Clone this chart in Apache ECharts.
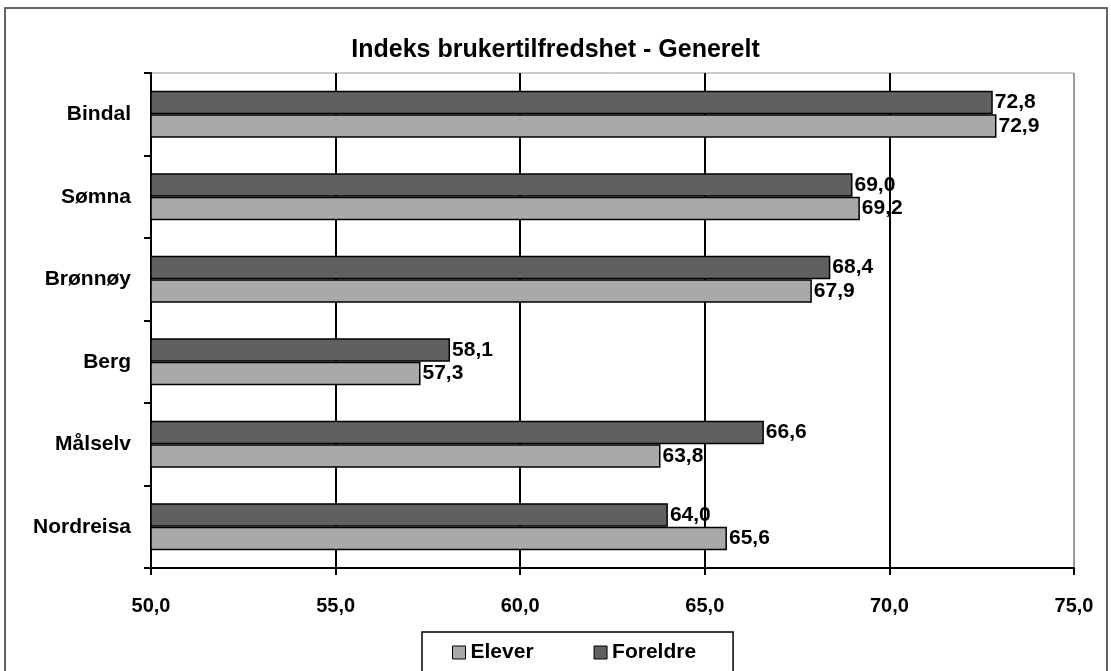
<!DOCTYPE html>
<html>
<head>
<meta charset="utf-8">
<script src="https://cdn.jsdelivr.net/npm/echarts@6/dist/echarts.min.js"></script>
<style>
  html, body { margin: 0; padding: 0; background: #fff; }
  #chart { width: 1111px; height: 671px; }
</style>
</head>
<body>
<div id="chart"></div>
<script>
  const kommuner = ['Bindal', 'Sømna', 'Brønnøy', 'Berg', 'Målselv', 'Nordreisa']
  const elever = [72.9, 69.2, 67.9, 57.3, 63.8, 65.6]
  const foreldre = [72.8, 69.0, 68.4, 58.1, 66.6, 64.0]
  const xTicks = [50, 55, 60, 65, 70, 75]

  const font = '"Liberation Sans Narrow", "Liberation Sans", Arial, sans-serif'
  const komma = function (v) {
    return Number(v).toFixed(1).replace('.', ',')
  }

  let myChart = echarts.init(document.getElementById('chart'))
  const option = {
    animation: false,
    backgroundColor: '#fff',
    textStyle: { fontFamily: font, color: '#000' },
    title: {
      text: 'Indeks brukertilfredshet - Generelt',
      left: 'center',
      top: 33,
      textStyle: { fontFamily: font, fontSize: 25, fontWeight: 'bold', color: '#000' }
    },
    graphic: [
      {
        type: 'rect',
        shape: { x: 5, y: 8, width: 1102, height: 680 },
        style: { fill: null, stroke: '#666', lineWidth: 2 },
        silent: true,
        z: -1
      }
    ],
    legend: {
      data: ['Elever', 'Foreldre'],
      left: 422,
      top: 632,
      itemGap: 60,
      itemWidth: 13,
      itemHeight: 13,
      padding: [10, 37, 14, 30],
      borderColor: '#000',
      borderWidth: 1.5,
      icon: 'rect',
      itemStyle: { borderColor: '#000', borderWidth: 1 },
      textStyle: { fontFamily: font, fontSize: 21, fontWeight: 'bold', color: '#000' }
    },
    grid: {
      left: 151,
      right: 37,
      top: 73,
      bottom: 103,
      show: true,
      borderColor: '#999',
      borderWidth: 1
    },
    xAxis: {
      type: 'value',
      min: xTicks[0],
      max: xTicks[xTicks.length - 1],
      interval: 5,
      axisLine: { show: true, lineStyle: { color: '#000', width: 2 } },
      axisTick: { show: true, length: 7, lineStyle: { color: '#000', width: 2 } },
      axisLabel: {
        margin: 28,
        fontFamily: font,
        fontSize: 20,
        fontWeight: 'bold',
        color: '#000',
        formatter: komma
      },
      splitLine: {
        show: true,
        lineStyle: { color: ['#000', '#000', '#000', '#000', '#000', '#999'], width: 2 }
      }
    },
    yAxis: {
      type: 'category',
      data: kommuner,
      inverse: true,
      axisLine: { show: true, lineStyle: { color: '#000', width: 2 } },
      axisTick: { show: true, length: 7, inside: false, lineStyle: { color: '#000', width: 2 } },
      axisLabel: {
        margin: 20,
        fontFamily: font,
        fontSize: 21,
        fontWeight: 'bold',
        color: '#000'
      },
      splitLine: { show: false }
    },
    series: [
      {
        name: 'Foreldre',
        type: 'bar',
        data: foreldre,
        barGap: '0%',
        barCategoryGap: '43%',
        itemStyle: { color: '#606060', borderColor: '#000', borderWidth: 1.5 },
        label: {
          show: true,
          position: 'right',
          distance: 2,
          fontFamily: font,
          fontSize: 21,
          fontWeight: 'bold',
          color: '#000',
          formatter: function (p) { return komma(p.value) }
        }
      },
      {
        name: 'Elever',
        type: 'bar',
        data: elever,
        barGap: '0%',
        barCategoryGap: '43%',
        itemStyle: { color: '#a9a9a9', borderColor: '#000', borderWidth: 1.5 },
        label: {
          show: true,
          position: 'right',
          distance: 2,
          fontFamily: font,
          fontSize: 21,
          fontWeight: 'bold',
          color: '#000',
          formatter: function (p) { return komma(p.value) }
        }
      }
    ]
  }
  myChart.setOption(option)
</script>
</body>
</html>
